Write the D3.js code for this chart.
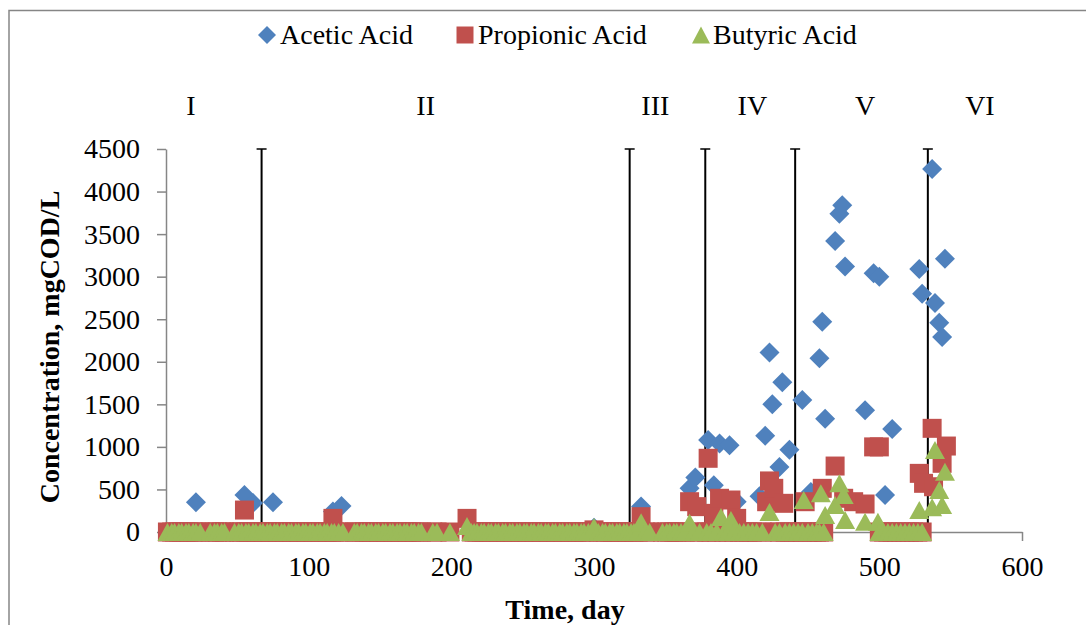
<!DOCTYPE html>
<html>
<head>
<meta charset="utf-8">
<script src="https://cdn.jsdelivr.net/npm/d3@7"></script>
<style>
  body { margin: 0; background: #fff; }
  text { font-family: "Liberation Serif", "Times New Roman", serif; fill: #000; }
</style>
</head>
<body>
<svg id="chart" width="1086" height="625"></svg>
<script>
// ---- Measured concentrations (day, mgCOD/L) ----
const acetic = [
  [21, 350], [55, 435], [61, 340], [75, 350], [117, 240], [123, 305], [300, 50], [333, 300],
  [367, 515], [371, 640], [380, 1080], [384, 550], [388, 1040], [395, 1020], [400, 355],
  [416, 420], [420, 1130], [423, 2110], [425, 1500], [430, 765], [432, 1760], [437, 965],
  [446, 1550], [452, 470], [458, 2040], [460, 2470], [462, 1330], [469, 3420], [472, 3740],
  [474, 3840], [476, 3120], [490, 1430], [496, 3040], [500, 3000], [504, 435], [509, 1210],
  [528, 3090], [530, 2800], [537, 4265], [539, 2690], [542, 2460], [544, 2290], [546, 3210]
];
const propionic = [
  [55, 258], [117, 160], [211, 160], [300, 25], [333, 180], [367, 356], [372, 298],
  [380, 866], [384, 219], [388, 396], [396, 376], [400, 160], [421, 356], [423, 600],
  [426, 513], [433, 337], [448, 356], [460, 513], [469, 775], [475, 396], [482, 356],
  [490, 329], [496, 1000], [500, 1000], [528, 689], [531, 572], [537, 1218], [538, 532],
  [544, 807], [547, 1010]
];
const butyric = [
  [211, 70], [300, 60], [333, 115], [367, 110], [389, 175], [396, 140], [423, 235],
  [447, 376], [459, 455], [462, 200], [469, 317], [472, 572], [475, 435], [476, 141],
  [490, 121], [499, 121], [528, 258], [537, 290], [539, 963], [542, 493], [544, 317],
  [546, 709]
];
// Sampling days on which propionic and butyric acid were both at 0 mgCOD/L
const baselineDays = [
  1, 4, 6, 9, 11, 14, 16, 19, 21, 24, 31, 34, 36, 39, 41, 48, 51, 53, 56, 58, 61, 63, 66,
  68, 71, 73, 76, 78, 81, 83, 86, 88, 91, 93, 96, 98, 101, 103, 106, 108, 111, 113, 116,
  118, 121, 124, 132, 134, 137, 139, 142, 144, 147, 149, 152, 154, 157, 159, 162, 164,
  167, 169, 172, 174, 177, 179, 187, 190, 199, 214, 216, 218, 221, 223, 226, 228, 231,
  233, 236, 238, 241, 243, 246, 248, 251, 253, 256, 258, 261, 263, 266, 268, 271, 273,
  276, 278, 281, 283, 286, 288, 291, 293, 296, 303, 306, 308, 311, 313, 316, 318, 321,
  323, 326, 328, 331, 336, 339, 348, 351, 353, 356, 358, 361, 364, 370, 374, 379, 382,
  386, 391, 394, 398, 402, 405, 408, 411, 414, 418, 427, 430, 434, 437, 440, 443, 446,
  450, 453, 456, 458, 461, 500, 503, 506, 509, 512, 515, 518, 521, 524, 527, 530
];
// Operating phase boundaries (day) and phase names
const phaseBounds = [67, 325, 378, 441, 534];
const phaseNames = ["I", "II", "III", "IV", "V", "VI"];

const seriesNames = ["Acetic Acid", "Propionic Acid", "Butyric Acid"];
const yTicks = [0, 500, 1000, 1500, 2000, 2500, 3000, 3500, 4000, 4500];
const xTicks = [0, 100, 200, 300, 400, 500, 600];

// ---- Layout ----
const svg = d3.select("#chart");
const x = d3.scaleLinear().domain([0, 600]).range([166, 1022]);
const y = d3.scaleLinear().domain([0, 4500]).range([532, 149]);
const axisGrey = "#868686";
const colors = { acetic: "#4F81BD", propionic: "#C0504D", butyric: "#9BBB59" };
const fontSize = 28;

// outer chart frame
svg.append("rect")
  .attr("x", 9).attr("y", 10.5).attr("width", 1100).attr("height", 640)
  .attr("fill", "none").attr("stroke", axisGrey).attr("stroke-width", 1.5);

// axes
const yAxis = svg.append("g")
  .attr("transform", `translate(${x(0)},0)`)
  .call(d3.axisLeft(y).tickValues(yTicks).tickFormat(d3.format("d"))
    .tickSize(9).tickSizeOuter(0).tickPadding(17));
const xAxis = svg.append("g")
  .attr("transform", `translate(0,${y(0)})`)
  .call(d3.axisBottom(x).tickValues(xTicks).tickFormat(d3.format("d"))
    .tickSize(9).tickSizeOuter(0).tickPadding(15));
[yAxis, xAxis].forEach(g => {
  g.select(".domain").attr("stroke", axisGrey).attr("stroke-width", 1.5);
  g.selectAll(".tick line").attr("stroke", axisGrey).attr("stroke-width", 1.5);
  g.selectAll(".tick text")
    .attr("font-family", "Liberation Serif, Times New Roman, serif")
    .attr("font-size", fontSize).attr("fill", "#000");
});

// axis titles
svg.append("text")
  .attr("x", 565).attr("y", 619).attr("text-anchor", "middle")
  .attr("font-size", fontSize).attr("font-weight", "bold")
  .text("Time, day");
svg.append("text")
  .attr("transform", "translate(59,347) rotate(-90)")
  .attr("text-anchor", "middle")
  .attr("font-size", fontSize).attr("font-weight", "bold")
  .text("Concentration, mgCOD/L");

// phase boundary lines with a cap at the top
const phases = svg.append("g");
phaseBounds.forEach(d => {
  phases.append("line")
    .attr("x1", x(d)).attr("x2", x(d)).attr("y1", y(4500)).attr("y2", y(0))
    .attr("stroke", "#000").attr("stroke-width", 2);
  phases.append("line")
    .attr("x1", x(d) - 5).attr("x2", x(d) + 5).attr("y1", y(4500)).attr("y2", y(4500))
    .attr("stroke", "#000").attr("stroke-width", 1.5);
  phases.append("rect")
    .attr("x", x(d) - 2.5).attr("y", y(0) - 7).attr("width", 5).attr("height", 7)
    .attr("fill", "#000");
});
// phase names, placed above the plot at these days
const phaseNameAt = [17.5, 182, 343, 411, 490, 570.5];
phaseNames.forEach((n, i) => {
  svg.append("text")
    .attr("x", x(phaseNameAt[i])).attr("y", 115).attr("text-anchor", "middle")
    .attr("font-size", fontSize).text(n);
});

// marker shapes
const diamondPath = s => `M0,${-s}L${s},0L0,${s}L${-s},0Z`;
const squarePath = s => `M${-s},${-s}H${s}V${s}H${-s}Z`;
const trianglePath = (w, h) => `M0,${-h / 2}L${w / 2},${h / 2}L${-w / 2},${h / 2}Z`;

const zeroPoints = baselineDays.map(d => [d, 0]);
const propAll = propionic.concat(zeroPoints).sort((a, b) => a[0] - b[0]);
const butAll = butyric.concat(zeroPoints).sort((a, b) => a[0] - b[0]);

function drawSeries(data, path, color) {
  svg.append("g").selectAll("path").data(data).join("path")
    .attr("d", path)
    .attr("transform", d => `translate(${x(d[0])},${y(d[1])})`)
    .attr("fill", color);
}
drawSeries(acetic, diamondPath(10), colors.acetic);
drawSeries(propAll, squarePath(9.5), colors.propionic);
drawSeries(butAll, trianglePath(20, 18), colors.butyric);

// legend
const legend = [
  { name: seriesNames[0], path: diamondPath(9), color: colors.acetic, mx: 267, tx: 280 },
  { name: seriesNames[1], path: squarePath(8.5), color: colors.propionic, mx: 465, tx: 478 },
  { name: seriesNames[2], path: trianglePath(18, 17), color: colors.butyric, mx: 701, tx: 713 }
];
legend.forEach(l => {
  svg.append("path").attr("d", l.path)
    .attr("transform", `translate(${l.mx},35)`).attr("fill", l.color);
  svg.append("text").attr("x", l.tx).attr("y", 44)
    .attr("font-size", fontSize).text(l.name);
});
</script>
</body>
</html>
